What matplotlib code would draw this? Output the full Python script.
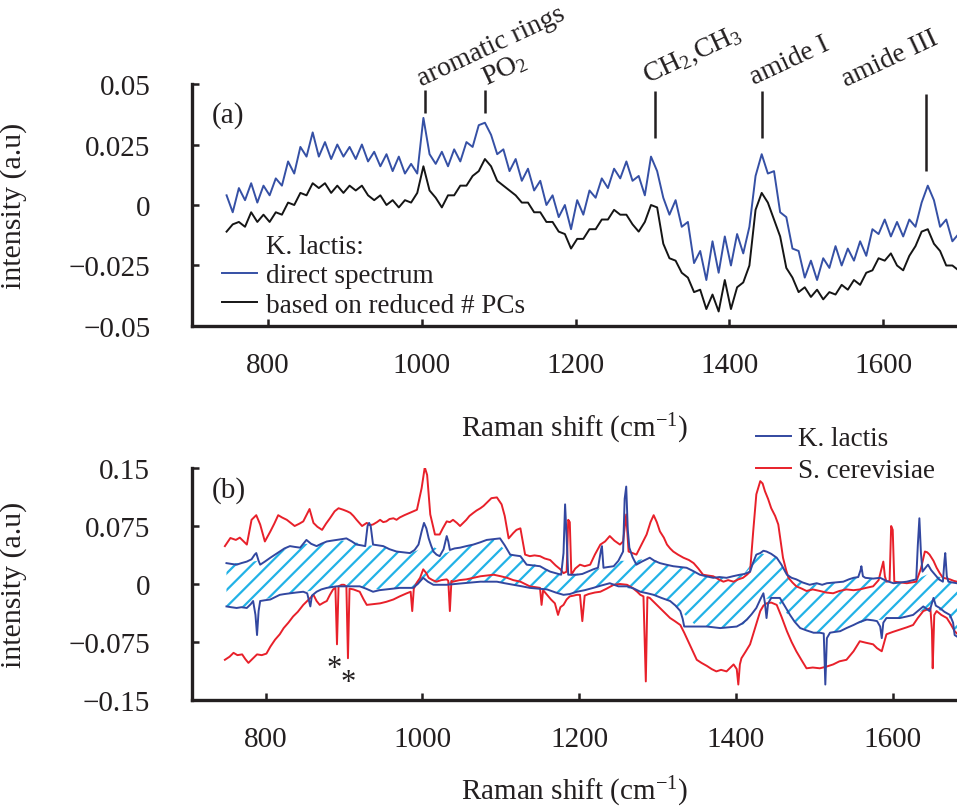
import numpy as np
import matplotlib.pyplot as plt
from matplotlib.lines import Line2D

plt.rcParams['font.family'] = ['Liberation Serif', 'DejaVu Serif']
plt.rcParams['mathtext.fontset'] = 'custom'
plt.rcParams['mathtext.rm'] = 'Liberation Serif'
plt.rcParams['mathtext.it'] = 'Liberation Serif:italic'
plt.rcParams['hatch.linewidth'] = 1.6

INK = '#231f20'
BLUE_A = '#3550a5'
BLUE_B = '#3247a0'
RED = '#e8202a'
CYAN = '#22b2e6'

# ---- (a) K. lactis: direct spectrum vs reconstruction from reduced PCs ----
shift_a = np.arange(746, 1700, 8)
direct = [
    0.004, -0.003, 0.007, 0.002, 0.009, 0.001, 0.008, 0.004, 0.011, 0.008,
    0.018, 0.013, 0.024, 0.020, 0.030, 0.020, 0.026, 0.019, 0.025, 0.020,
    0.024, 0.019, 0.025, 0.018, 0.022, 0.016, 0.021, 0.014, 0.020, 0.013,
    0.017, 0.013, 0.036, 0.021, 0.017, 0.022, 0.016, 0.023, 0.018, 0.026,
    0.024, 0.033, 0.034, 0.029, 0.021, 0.023, 0.014, 0.019, 0.010, 0.015,
    0.006, 0.010, 0.000, 0.004, -0.005, 0.000, -0.010, 0.002, -0.004, 0.006,
    0.003, 0.011, 0.007, 0.015, 0.011, 0.018, 0.010, 0.012, 0.004, 0.020,
    0.014, 0.003, -0.004, 0.002, -0.009, -0.007, -0.024, -0.019, -0.031, -0.015,
    -0.028, -0.013, -0.025, -0.012, -0.020, -0.009, 0.012, 0.021, 0.013, 0.014,
    -0.003, -0.005, -0.018, -0.019, -0.030, -0.023, -0.031, -0.022, -0.026, -0.017,
    -0.025, -0.018, -0.023, -0.015, -0.021, -0.010, -0.012, -0.006, -0.013, -0.007,
    -0.013, -0.006, -0.009, 0.001, 0.008, 0.002, -0.009, -0.006, -0.015, -0.012,
]
reduced = [
    -0.011, -0.008, -0.007, -0.009, -0.003, -0.007, -0.004, -0.007, -0.003, -0.004,
    0.001, 0.000, 0.005, 0.004, 0.009, 0.007, 0.009, 0.005, 0.008, 0.005,
    0.008, 0.006, 0.008, 0.004, 0.002, 0.004, 0.000, 0.002, -0.001, 0.002,
    0.001, 0.005, 0.016, 0.006, 0.003, -0.001, 0.004, 0.004, 0.008, 0.008,
    0.012, 0.014, 0.019, 0.016, 0.010, 0.008, 0.006, 0.004, 0.001, 0.001,
    -0.003, -0.003, -0.007, -0.007, -0.011, -0.012, -0.018, -0.014, -0.014, -0.010,
    -0.010, -0.006, -0.006, -0.002, -0.004, -0.004, -0.008, -0.011, -0.007, 0.000,
    -0.001, -0.016, -0.022, -0.023, -0.028, -0.030, -0.036, -0.035, -0.043, -0.037,
    -0.044, -0.031, -0.043, -0.034, -0.032, -0.025, -0.002, 0.005, 0.001, -0.006,
    -0.013, -0.026, -0.030, -0.036, -0.034, -0.038, -0.035, -0.039, -0.036, -0.037,
    -0.033, -0.035, -0.031, -0.033, -0.028, -0.027, -0.022, -0.023, -0.020, -0.025,
    -0.027, -0.021, -0.017, -0.011, -0.010, -0.016, -0.019, -0.025, -0.025, -0.027,
]
peak_pos = [1004, 1082, 1303, 1443, 1656]
peak_top = [0.0475, 0.0475, 0.047, 0.047, 0.046]
peak_bottom = [0.038, 0.038, 0.0275, 0.0275, 0.014]
peak_names = ['aromatic rings', 'PO$_2$', 'CH$_2$,CH$_3$', 'amide I', 'amide III']
name_x = [1000, 1084, 1293, 1432, 1552]
name_y = [0.0492, 0.0496, 0.0505, 0.050, 0.049]

yticks_a = [-0.05, -0.025, 0, 0.025, 0.05]
ylabels_a = ['\u22120.05', '\u22120.025', '0', '0.025', '0.05']

# ---- (b) band of K. lactis vs S. cerevisiae ----
sc_hi_x = [748, 755, 762, 767, 776, 782, 788, 793, 799, 806, 811, 816, 821, 827, 832,
           837, 843, 848, 856, 861, 866, 872, 877, 882, 888, 893, 899, 904, 908, 912,
           916, 923, 929, 933, 937, 942, 946, 950, 954, 958, 963, 967, 971, 977, 984,
           989, 993, 999, 1003, 1006, 1010, 1016, 1022, 1026, 1031, 1035, 1039, 1044, 1048, 1052,
           1056, 1060, 1065, 1069, 1074, 1078, 1082, 1088, 1095, 1101, 1105, 1110, 1116, 1120, 1125,
           1131, 1137, 1143, 1150, 1156, 1163, 1170, 1176, 1180, 1184, 1186, 1188, 1190, 1195, 1201,
           1207, 1214, 1220, 1227, 1233, 1239, 1245, 1252, 1256, 1260, 1263, 1268, 1273, 1280, 1286,
           1291, 1295, 1299, 1303, 1308, 1312, 1316, 1320, 1326, 1333, 1340, 1346, 1352, 1358, 1364,
           1371, 1378, 1384, 1390, 1397, 1403, 1409, 1414, 1418, 1422, 1426, 1431, 1434, 1437, 1441,
           1445, 1450, 1454, 1457, 1460, 1464, 1467, 1472, 1477, 1484, 1490, 1498, 1507, 1515, 1524,
           1532, 1541, 1550, 1558, 1566, 1575, 1582, 1588, 1590, 1592, 1596, 1598, 1600, 1602, 1610,
           1618, 1624, 1630, 1636, 1641, 1644, 1647, 1652, 1656, 1660, 1664, 1669, 1673, 1678, 1682]
sc_hi = [0.049, 0.0595, 0.057, 0.060, 0.051, 0.083, 0.089, 0.077, 0.055, 0.068, 0.078, 0.089, 0.086, 0.083, 0.079,
         0.075, 0.078, 0.081, 0.097, 0.079, 0.074, 0.070, 0.078, 0.085, 0.094, 0.098, 0.096, 0.094, 0.092, 0.088,
         0.083, 0.075, 0.079, 0.076, 0.077, 0.080, 0.083, 0.080, 0.081, 0.084, 0.085, 0.083, 0.086, 0.089, 0.092,
         0.094, 0.096, 0.124, 0.151, 0.141, 0.090, 0.064, 0.064, 0.072, 0.081, 0.080, 0.083, 0.079, 0.075, 0.079,
         0.083, 0.088, 0.092, 0.095, 0.098, 0.101, 0.105, 0.111, 0.112, 0.103, 0.088, 0.059, 0.066, 0.070, 0.072,
         0.038, 0.036, 0.037, 0.036, 0.033, 0.031, 0.024, 0.019, 0.014, 0.016, 0.083, 0.080, 0.012, 0.020, 0.025,
         0.023, 0.025, 0.038, 0.051, 0.055, 0.062, 0.056, 0.051, 0.055, 0.090, 0.042, 0.040, 0.038, 0.052, 0.064,
         0.080, 0.089, 0.080, 0.068, 0.060, 0.051, 0.046, 0.042, 0.038, 0.034, 0.031, 0.027, 0.020, 0.012, 0.011,
         0.010, 0.006, 0.003, 0.005, 0.003, 0.006, 0.008, 0.012, 0.016, 0.068, 0.116, 0.133, 0.130, 0.120, 0.110,
         0.098, 0.088, 0.077, 0.055, 0.034, 0.018, 0.008, 0.002, -0.003, -0.006, -0.009, -0.007, -0.009, -0.011, -0.012,
         -0.009, -0.007, -0.008, -0.007, -0.005, -0.003, 0.005, 0.029, 0.010, 0.003, 0.004, 0.075, 0.070, 0.003, 0.002,
         0.001, 0.002, 0.003, 0.020, 0.042, 0.041, 0.038, 0.030, 0.021, 0.014, 0.008, 0.007, 0.006, 0.004, 0.003]

sc_lo_x = [748, 754, 759, 764, 770, 774, 778, 783, 789, 795, 801, 806, 812, 818, 823,
           829, 835, 841, 848, 854, 861, 865, 869, 874, 878, 882, 886, 889, 891, 893,
           897, 900, 903, 905, 907, 912, 920, 925, 929, 937, 946, 954, 963, 971, 980,
           985, 987, 989, 993, 997, 1001, 1005, 1008, 1013, 1018, 1024, 1031, 1033, 1035, 1037,
           1039, 1047, 1056, 1065, 1074, 1082, 1091, 1100, 1108, 1116, 1125, 1131, 1137, 1144, 1150,
           1152, 1154, 1159, 1164, 1169, 1173, 1176, 1180, 1184, 1188, 1193, 1197, 1201, 1204, 1207,
           1212, 1220, 1227, 1235, 1244, 1252, 1261, 1268, 1274, 1278, 1282, 1285, 1287, 1290, 1296,
           1303, 1310, 1316, 1322, 1329, 1334, 1339, 1345, 1350, 1356, 1363, 1369, 1375, 1381, 1388,
           1393, 1397, 1401, 1403, 1405, 1407, 1412, 1418, 1424, 1431, 1435, 1439, 1445, 1452, 1458,
           1465, 1471, 1477, 1484, 1490, 1498, 1507, 1515, 1524, 1532, 1541, 1550, 1558, 1566, 1575,
           1580, 1586, 1592, 1600, 1609, 1618, 1626, 1632, 1639, 1644, 1648, 1650, 1651, 1653, 1656,
           1662, 1669, 1674, 1679, 1682]
sc_lo = [-0.098, -0.094, -0.089, -0.092, -0.091, -0.097, -0.102, -0.097, -0.091, -0.092, -0.090, -0.081, -0.072, -0.065, -0.057,
         -0.050, -0.042, -0.036, -0.027, -0.021, -0.014, -0.022, -0.027, -0.024, -0.022, -0.014, -0.007, -0.005, -0.078, -0.003,
         -0.001, -0.001, -0.003, -0.096, -0.006, -0.007, -0.010, -0.020, -0.027, -0.026, -0.025, -0.023, -0.020, -0.016, -0.012,
         -0.010, -0.035, -0.006, 0.002, 0.008, 0.019, 0.014, 0.008, 0.005, 0.003, 0.005, 0.006, 0.004, -0.035, 0.004,
         0.003, 0.005, 0.006, 0.008, 0.010, 0.011, 0.012, 0.010, 0.008, 0.005, 0.003, 0.000, -0.003, -0.004, -0.005,
         -0.027, -0.008, -0.014, -0.020, -0.025, -0.040, -0.030, -0.027, -0.020, -0.016, -0.015, -0.014, -0.014, -0.048, -0.015,
         -0.013, -0.011, -0.010, -0.006, -0.001, 0.000, -0.001, -0.005, -0.010, -0.014, -0.016, -0.126, -0.017, -0.018, -0.024,
         -0.031, -0.038, -0.044, -0.048, -0.053, -0.063, -0.074, -0.087, -0.098, -0.102, -0.106, -0.110, -0.113, -0.111, -0.113,
         -0.108, -0.104, -0.110, -0.130, -0.104, -0.096, -0.088, -0.078, -0.058, -0.035, -0.028, -0.025, -0.024, -0.027, -0.042,
         -0.061, -0.075, -0.087, -0.099, -0.109, -0.108, -0.109, -0.107, -0.104, -0.100, -0.098, -0.087, -0.074, -0.076, -0.078,
         -0.083, -0.087, -0.065, -0.062, -0.059, -0.056, -0.053, -0.044, -0.035, -0.033, -0.031, -0.060, -0.109, -0.040, -0.035,
         -0.040, -0.044, -0.052, -0.061, -0.064]

kl_hi_x = [750, 756, 763, 769, 776, 782, 786, 788, 791, 793, 799, 806, 812, 818, 824,
           831, 837, 844, 848, 852, 858, 865, 871, 878, 884, 891, 897, 903, 910, 916,
           922, 927, 930, 932, 934, 937, 944, 950, 958, 967, 975, 984, 990, 995, 999,
           1002, 1005, 1008, 1011, 1014, 1018, 1022, 1027, 1031, 1033, 1035, 1041, 1048, 1056, 1065,
           1074, 1082, 1090, 1099, 1105, 1112, 1118, 1125, 1133, 1141, 1150, 1157, 1163, 1170, 1177,
           1180, 1182, 1184, 1186, 1191, 1197, 1204, 1211, 1218, 1224, 1228, 1229, 1231, 1237, 1244,
           1250, 1256, 1258, 1260, 1262, 1264, 1268, 1273, 1280, 1286, 1290, 1296, 1303, 1311, 1320,
           1328, 1337, 1345, 1354, 1362, 1371, 1379, 1388, 1396, 1405, 1411, 1418, 1422, 1426, 1431,
           1435, 1439, 1445, 1452, 1458, 1465, 1471, 1477, 1485, 1494, 1503, 1510, 1516, 1526, 1537,
           1544, 1550, 1556, 1559, 1560, 1562, 1565, 1575, 1584, 1592, 1601, 1610, 1618, 1626, 1630,
           1632, 1634, 1636, 1638, 1641, 1645, 1649, 1654, 1659, 1664, 1666, 1667, 1669, 1671, 1676,
           1682]
kl_hi = [0.027, 0.026, 0.025, 0.027, 0.029, 0.032, 0.038, 0.040, 0.030, 0.025, 0.029, 0.034, 0.038, 0.042, 0.046,
         0.049, 0.048, 0.047, 0.052, 0.057, 0.052, 0.049, 0.052, 0.055, 0.056, 0.057, 0.058, 0.059, 0.055, 0.051,
         0.050, 0.049, 0.075, 0.079, 0.075, 0.051, 0.050, 0.049, 0.045, 0.042, 0.041, 0.040, 0.044, 0.051, 0.068,
         0.079, 0.072, 0.059, 0.050, 0.042, 0.038, 0.036, 0.045, 0.062, 0.055, 0.044, 0.046, 0.047, 0.049, 0.051,
         0.054, 0.057, 0.058, 0.059, 0.050, 0.038, 0.037, 0.036, 0.025, 0.024, 0.023, 0.019, 0.016, 0.014, 0.012,
         0.040, 0.103, 0.060, 0.012, 0.012, 0.012, 0.013, 0.016, 0.019, 0.021, 0.045, 0.049, 0.021, 0.022, 0.023,
         0.030, 0.042, 0.110, 0.126, 0.070, 0.047, 0.035, 0.025, 0.029, 0.032, 0.034, 0.030, 0.027, 0.025, 0.023,
         0.022, 0.021, 0.017, 0.012, 0.010, 0.008, 0.009, 0.008, 0.010, 0.012, 0.013, 0.016, 0.028, 0.038, 0.040,
         0.043, 0.042, 0.039, 0.034, 0.025, 0.012, 0.008, 0.006, 0.002, -0.001, 0.001, -0.001, 0.001, 0.002, 0.003,
         0.006, 0.008, 0.009, 0.018, 0.023, 0.010, 0.008, 0.007, 0.008, 0.004, 0.001, 0.002, 0.003, 0.005, 0.006,
         0.050, 0.085, 0.040, 0.016, 0.020, 0.025, 0.018, 0.012, 0.006, 0.003, 0.030, 0.040, 0.010, 0.003, 0.002,
         0.001]

kl_lo_x = [750, 756, 763, 769, 776, 781, 784, 787, 789, 791, 793, 799, 806, 812, 818,
           824, 831, 839, 848, 853, 856, 857, 859, 865, 871, 878, 884, 891, 897, 903,
           912, 920, 928, 937, 945, 954, 962, 971, 980, 988, 994, 1001, 1007, 1014, 1022,
           1031, 1041, 1052, 1063, 1074, 1084, 1095, 1105, 1116, 1127, 1137, 1148, 1159, 1170, 1180,
           1188, 1197, 1207, 1218, 1228, 1239, 1250, 1261, 1270, 1278, 1287, 1295, 1305, 1316, 1323,
           1329, 1332, 1334, 1348, 1363, 1372, 1380, 1390, 1401, 1408, 1414, 1420, 1426, 1431, 1435,
           1437, 1439, 1441, 1445, 1450, 1456, 1462, 1469, 1475, 1482, 1490, 1499, 1507, 1512, 1514,
           1516, 1520, 1526, 1533, 1541, 1550, 1558, 1567, 1575, 1580, 1584, 1586, 1588, 1592, 1600,
           1609, 1618, 1626, 1633, 1639, 1643, 1647, 1650, 1652, 1655, 1660, 1666, 1673, 1677, 1679,
           1682]
kl_lo = [-0.029, -0.030, -0.031, -0.030, -0.031, -0.026, -0.022, -0.040, -0.066, -0.035, -0.022, -0.021, -0.020, -0.017, -0.014,
         -0.013, -0.012, -0.011, -0.010, -0.012, -0.025, -0.029, -0.015, -0.010, -0.007, -0.005, -0.004, -0.003, -0.003, -0.003,
         -0.003, -0.003, -0.006, -0.010, -0.008, -0.007, -0.006, -0.005, -0.005, -0.005, 0.000, 0.008, 0.003, -0.001, -0.001,
         -0.001, 0.000, 0.001, 0.002, 0.003, 0.003, 0.003, 0.001, -0.001, -0.003, -0.005, -0.006, -0.007, -0.011, -0.014,
         -0.013, -0.010, -0.008, -0.005, -0.002, 0.001, -0.003, -0.003, -0.006, -0.010, -0.012, -0.014, -0.018, -0.022, -0.028,
         -0.035, -0.045, -0.055, -0.055, -0.055, -0.056, -0.057, -0.056, -0.055, -0.051, -0.046, -0.039, -0.031, -0.020, -0.012,
         -0.025, -0.044, -0.025, -0.018, -0.018, -0.018, -0.028, -0.040, -0.049, -0.057, -0.060, -0.063, -0.063, -0.064, -0.130,
         -0.070, -0.063, -0.062, -0.061, -0.057, -0.053, -0.049, -0.046, -0.047, -0.048, -0.055, -0.070, -0.050, -0.044, -0.044,
         -0.044, -0.042, -0.040, -0.034, -0.029, -0.032, -0.035, -0.025, -0.018, -0.028, -0.031, -0.036, -0.040, -0.050, -0.066,
         -0.068]

# spread of K. lactis spectra (spikes left out)
band_x = [750, 770, 790, 810, 830, 850, 870, 890, 910, 930, 950, 970, 990, 1010, 1030,
          1050, 1070, 1090, 1110, 1130, 1150, 1170, 1190, 1210, 1230, 1250, 1270, 1290, 1310, 1330,
          1350, 1370, 1390, 1410, 1430, 1450, 1470, 1490, 1510, 1530, 1550, 1570, 1590, 1610, 1630,
          1650, 1670, 1682]
band_hi = [0.027, 0.027, 0.030, 0.037, 0.048, 0.052, 0.051, 0.057, 0.055, 0.050, 0.049, 0.042, 0.042, 0.050, 0.040,
           0.048, 0.053, 0.058, 0.040, 0.030, 0.023, 0.014, 0.012, 0.016, 0.021, 0.030, 0.030, 0.034, 0.025, 0.022,
           0.015, 0.008, 0.008, 0.013, 0.040, 0.036, 0.008, -0.001, 0.000, 0.002, 0.008, 0.007, 0.004, 0.002, 0.006,
           0.015, 0.003, 0.001]
band_lo = [-0.029, -0.031, -0.022, -0.017, -0.012, -0.010, -0.007, -0.003, -0.003, -0.005, -0.008, -0.005, -0.005, 0.003, -0.001,
           0.001, 0.002, 0.003, 0.000, -0.004, -0.006, -0.011, -0.012, -0.007, -0.001, -0.003, -0.007, -0.013, -0.020, -0.035,
           -0.055, -0.056, -0.056, -0.052, -0.020, -0.018, -0.045, -0.060, -0.063, -0.061, -0.053, -0.047, -0.046, -0.044, -0.038,
           -0.030, -0.038, -0.068]
star_x = [888, 905]
star_y = [-0.109, -0.127]

yticks_b = [-0.15, -0.075, 0, 0.075, 0.15]
ylabels_b = ['\u22120.15', '\u22120.075', '0', '0.075', '0.15']
xticks = [800, 1000, 1200, 1400, 1600]


def style_axes(ax, yticks, ylabels):
    for side in ['top', 'right']:
        ax.spines[side].set_visible(False)
    for side in ['left', 'bottom']:
        ax.spines[side].set_linewidth(2.4)
        ax.spines[side].set_color(INK)
    ax.set_xticks(xticks)
    ax.set_xticklabels([str(t) for t in xticks])
    ax.set_yticks(yticks)
    ax.set_yticklabels(ylabels)
    ax.tick_params(axis='both', direction='in', length=5, width=1.8, color=INK,
                   labelsize=21, labelcolor=INK)
    ax.tick_params(axis='x', pad=19)
    ax.tick_params(axis='y', pad=30)
    ax.set_ylabel('intensity (a.u)', fontsize=21.5, color=INK)
    ax.set_xlabel('Raman shift (cm$^{-1}$)', fontsize=21, color=INK)
    ax.yaxis.set_label_coords(-0.215, 0.5)


fig = plt.figure(figsize=(9.57, 8.12), dpi=100)

ax1 = fig.add_axes([0.2006, 0.5973, 0.7994, 0.2980])
ax1.plot(shift_a, direct, color=BLUE_A, lw=1.4)
ax1.plot(shift_a, reduced, color='#151515', lw=1.4)
ax1.set_xlim(701, 1696)
ax1.set_ylim(-0.05, 0.05)
style_axes(ax1, yticks_a, ylabels_a)
ax1.xaxis.set_label_coords(0.5, -0.35)
ax1.vlines(peak_pos, peak_bottom, peak_top, color=INK, lw=1.8)
for name, x, y in zip(peak_names, name_x, name_y):
    ax1.text(x, y, name, rotation=25, rotation_mode='anchor', ha='left', va='baseline',
             fontsize=20, color=INK, clip_on=False)
ax1.text(0.026, 0.872, '(a)', transform=ax1.transAxes, fontsize=21, color=INK,
         ha='left', va='center')
handles_a = [Line2D([], [], color='none'),
             Line2D([], [], color=BLUE_A, lw=1.4),
             Line2D([], [], color='#151515', lw=1.4)]
ax1.legend(handles_a, ['K. lactis:', 'direct spectrum', 'based on reduced # PCs'],
           loc='upper left', bbox_to_anchor=(0.039, 0.38), frameon=False,
           fontsize=19.5, handlelength=1.3, handletextpad=0.33, labelspacing=0.16,
           borderpad=0, borderaxespad=0, labelcolor=INK)

ax2 = fig.add_axes([0.2006, 0.1367, 0.7994, 0.2857])
ax2.fill_between(band_x, band_lo, band_hi, facecolor='none', edgecolor=CYAN,
                 hatch='//', linewidth=0, zorder=1)
ax2.plot(sc_hi_x, sc_hi, color=RED, lw=1.4, zorder=2)
ax2.plot(sc_lo_x, sc_lo, color=RED, lw=1.4, zorder=2)
ax2.plot(kl_hi_x, kl_hi, color=BLUE_B, lw=1.4, zorder=3)
ax2.plot(kl_lo_x, kl_lo, color=BLUE_B, lw=1.4, zorder=3)
ax2.set_xlim(706, 1682)
ax2.set_ylim(-0.15, 0.15)
style_axes(ax2, yticks_b, ylabels_b)
ax2.xaxis.set_label_coords(0.5, -0.32)
for x, y in zip(star_x, star_y):
    ax2.text(x, y, '*', fontsize=22, color=INK, ha='center', va='center')
ax2.text(0.026, 0.909, '(b)', transform=ax2.transAxes, fontsize=21, color=INK,
         ha='left', va='center')
handles_b = [Line2D([], [], color=BLUE_B, lw=1.4), Line2D([], [], color=RED, lw=1.4)]
ax2.legend(handles_b, ['K. lactis', 'S. cerevisiae'], loc='upper left',
           bbox_to_anchor=(0.737, 1.18), frameon=False, fontsize=19.5,
           handlelength=1.3, handletextpad=0.27, labelspacing=0.25,
           borderpad=0, borderaxespad=0, labelcolor=INK)

fig.savefig('out.png', dpi=100)
